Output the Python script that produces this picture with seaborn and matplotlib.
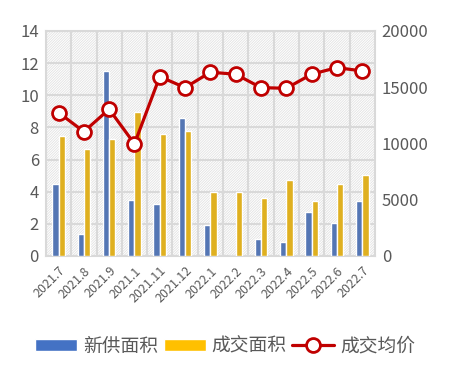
import numpy as np
import pandas as pd
import matplotlib
matplotlib.use("Agg")
import matplotlib.pyplot as plt
import seaborn as sns
from matplotlib.patches import Rectangle, Patch
from matplotlib.lines import Line2D

# data
months = ['2021.7', '2021.8', '2021.9', '2021.1', '2021.11', '2021.12', '2022.1',
          '2022.2', '2022.3', '2022.4', '2022.5', '2022.6', '2022.7']
new_supply = [4.48, 1.37, 11.5, 3.48, 3.24, 8.6, 1.93, 0, 1.06, 0.87, 2.74, 2.05, 3.42]
deal_area = [7.47, 6.66, 7.28, 8.96, 7.6, 7.78, 3.98, 4.0, 3.6, 4.73, 3.42, 4.48, 5.04]
avg_price = [12740, 11050, 13040, 9960, 15940, 14960, 16330, 16150, 14960, 14900, 16150, 16740, 16440]

sns.set_style("white")
plt.rcParams['font.family'] = ['Noto Sans CJK SC', 'DejaVu Sans']
plt.rcParams['hatch.color'] = '#e2e2e2'
plt.rcParams['hatch.linewidth'] = 0.6

grid_c = '#d9d9d9'
text_c = '#595959'

df = pd.DataFrame({'month': months, '新供面积': new_supply, '成交面积': deal_area})
df_long = df.melt(id_vars='month', var_name='series', value_name='value')

fig, ax = plt.subplots(figsize=(4.5, 3.77), dpi=100)
fig.subplots_adjust(left=0.102, right=0.833, top=0.918, bottom=0.321)

# hatched plot background
ax.add_patch(Rectangle((0, 0), 1, 1, transform=ax.transAxes, facecolor='white',
                       edgecolor='#e2e2e2', hatch='/' * 13, linewidth=0, zorder=0))

sns.barplot(data=df_long, x='month', y='value', hue='series',
            palette=['#4472C4', '#FFC000'], width=0.5, gap=0, ax=ax,
            legend=False, zorder=3)

n = len(months)
ax.set_xlim(-0.5, n - 0.5)
ax.set_ylim(0, 14)
ax.set_yticks(np.arange(0, 15, 2))
ax.set_xlabel('')
ax.set_ylabel('')
ax.set_xticks(np.arange(n) - 0.5, minor=True)
ax.set_xticks(np.arange(n))
ax.set_xticklabels(months, rotation=45, ha='right', rotation_mode='anchor',
                   fontsize=9, color=text_c)
ax.tick_params(axis='x', which='major', length=0, pad=6)
ax.tick_params(axis='x', which='minor', length=4, color=grid_c, width=1.5)
ax.tick_params(axis='y', length=0, labelsize=12, labelcolor=text_c, pad=5)
ax.grid(axis='y', color=grid_c, linewidth=1.5, zorder=1)
ax.grid(axis='x', which='minor', color=grid_c, linewidth=1.5, zorder=1)
ax.set_axisbelow(True)
for s in ax.spines.values():
    s.set_color(grid_c)
    s.set_linewidth(1.5)

ax2 = ax.twinx()
sns.lineplot(x=np.arange(n), y=avg_price, ax=ax2, color='#C00000', linewidth=2.3,
             marker='o', markersize=10, markerfacecolor='white',
             markeredgecolor='#C00000', markeredgewidth=2, zorder=5)
ax2.set_ylim(0, 20000)
ax2.set_yticks(np.arange(0, 20001, 5000))
ax2.tick_params(axis='y', length=0, labelsize=12, labelcolor=text_c, pad=5)
for s in ax2.spines.values():
    s.set_visible(False)

handles = [Patch(facecolor='#4472C4', label='新供面积'),
           Patch(facecolor='#FFC000', label='成交面积'),
           Line2D([0], [0], color='#C00000', linewidth=2.3, marker='o', markersize=10,
                  markerfacecolor='white', markeredgecolor='#C00000',
                  markeredgewidth=2, label='成交均价')]
leg = fig.legend(handles=handles, loc='center', bbox_to_anchor=(0.5, 0.082), ncol=3,
                 frameon=False, fontsize=13.5, handlelength=2.25, handleheight=0.62,
                 handletextpad=0.3, columnspacing=0.3)
for t in leg.get_texts():
    t.set_color(text_c)

fig.savefig('out.png', dpi=100)
